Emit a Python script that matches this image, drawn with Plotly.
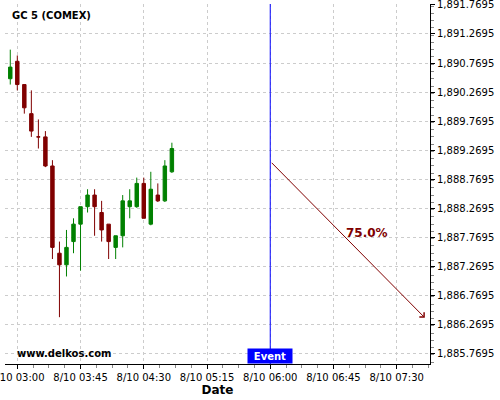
import plotly.graph_objects as go

times = [
    "2020-08-10 02:55", "2020-08-10 03:00", "2020-08-10 03:05", "2020-08-10 03:10",
    "2020-08-10 03:15", "2020-08-10 03:20", "2020-08-10 03:25", "2020-08-10 03:30",
    "2020-08-10 03:35", "2020-08-10 03:40", "2020-08-10 03:45", "2020-08-10 03:50",
    "2020-08-10 03:55", "2020-08-10 04:00", "2020-08-10 04:05", "2020-08-10 04:10",
    "2020-08-10 04:15", "2020-08-10 04:20", "2020-08-10 04:25", "2020-08-10 04:30",
    "2020-08-10 04:35", "2020-08-10 04:40", "2020-08-10 04:45", "2020-08-10 04:50",
]
opens = [1890.5, 1890.8, 1890.4, 1889.9, 1889.5, 1889.5, 1889.0, 1887.5,
         1887.3, 1887.7, 1888.0, 1888.3, 1888.5, 1888.2, 1888.0, 1887.6,
         1887.8, 1888.3, 1888.3, 1888.7, 1888.0, 1888.5, 1888.4, 1888.9]
highs = [1891.0, 1890.9, 1890.4, 1890.3, 1889.8, 1889.6, 1889.1, 1887.7,
         1887.9, 1888.1, 1888.3, 1888.6, 1888.6, 1888.4, 1888.0, 1887.8,
         1888.5, 1888.6, 1888.8, 1888.8, 1888.9, 1888.7, 1889.1, 1889.4]
lows = [1890.4, 1890.3, 1889.9, 1889.5, 1889.3, 1888.98, 1887.4, 1886.4,
        1887.1, 1887.5, 1887.2, 1888.2, 1887.8, 1887.7, 1887.4, 1887.4,
        1887.6, 1888.1, 1888.28, 1888.1, 1887.98, 1888.38, 1888.38, 1888.88]
closes = [1890.7, 1890.4, 1890.0, 1889.6, 1889.5, 1889.0, 1887.6, 1887.3,
          1887.6, 1888.0, 1888.3, 1888.5, 1888.3, 1887.9, 1887.7, 1887.8,
          1888.4, 1888.4, 1888.7, 1888.1, 1888.6, 1888.4, 1889.0, 1889.3]

title_text = "GC 5 (COMEX)"
event_time = "2020-08-10 06:00"
arrow_start = ("2020-08-10 06:00", 1889.08)
arrow_end = ("2020-08-10 07:50", 1886.39)
pct_label = "75.0%"
pct_pos = ("2020-08-10 07:08:48", 1887.84)
x_range = ["2020-08-10 02:51:15", "2020-08-10 07:53:41"]
y_range = [1885.595, 1891.785]

RED = "#800000"
GREEN = "#008000"
GRID = "#cccccc"

fig = go.Figure()
fig.add_trace(go.Candlestick(
    x=times, open=opens, high=highs, low=lows, close=closes,
    increasing=dict(line=dict(color=GREEN, width=1), fillcolor=GREEN),
    decreasing=dict(line=dict(color=RED, width=1), fillcolor=RED),
    whiskerwidth=0, hoverinfo="skip", showlegend=False,
))

fig.add_shape(type="line", x0=event_time, x1=event_time, xref="x",
              y0=0, y1=1, yref="paper", line=dict(color="#0000ff", width=1))

fig.add_annotation(x=arrow_end[0], y=arrow_end[1], ax=arrow_start[0], ay=arrow_start[1],
                   xref="x", yref="y", axref="x", ayref="y", text="",
                   showarrow=True, arrowhead=4, arrowsize=1.3, arrowwidth=1, arrowcolor=RED)
fig.add_annotation(x=pct_pos[0], y=pct_pos[1], xref="x", yref="y",
                   text="<b>" + pct_label + "</b>", showarrow=False,
                   font=dict(family="DejaVu Sans", size=12, color=RED))
fig.add_annotation(x=event_time, y=0, xref="x", yref="paper", yanchor="bottom",
                   text="<b>Event</b>", showarrow=False, bgcolor="#0000ff",
                   width=44, height=14, borderpad=0,
                   font=dict(family="DejaVu Sans", size=10, color="white"))
fig.add_annotation(x=0.0118, y=0.969, xref="paper", yref="paper", xanchor="left",
                   yanchor="middle", text="<b>" + title_text + "</b>", showarrow=False,
                   font=dict(family="DejaVu Sans", size=10, color="black"))
fig.add_annotation(x=0.0235, y=0.028, xref="paper", yref="paper", xanchor="left",
                   yanchor="middle", text="<b>www.delkos.com</b>", showarrow=False,
                   font=dict(family="DejaVu Sans", size=10, color="black"))

fig.update_layout(
    width=500, height=400,
    margin=dict(l=5, r=70, t=4, b=36),
    paper_bgcolor="white", plot_bgcolor="white",
    font=dict(family="DejaVu Sans", size=10, color="black"),
    xaxis=dict(
        type="date", range=x_range, rangeslider=dict(visible=False), automargin=False,
        tick0="2020-08-10 03:00", dtick=2700000, tickformat="%-m/%d %H:%M",
        showline=True, linecolor="black", linewidth=1, mirror=False,
        ticks="outside", ticklen=4, tickcolor="black",
        showgrid=True, gridcolor=GRID, griddash="3px,3px", gridwidth=1,
        zeroline=False, ticklabeloverflow="allow",
        minor=dict(dtick=675000, ticks="outside", ticklen=3, tickcolor="#888888", showgrid=False),
        title=dict(text="<b>Date</b>", font=dict(size=12), standoff=2),
        tickfont=dict(size=10),
    ),
    yaxis=dict(
        side="right", range=y_range, tick0=1885.7695, dtick=0.5, tickformat=",.4f",
        automargin=False, ticklabeloverflow="allow",
        showline=True, linecolor="black", linewidth=1,
        ticks="outside", ticklen=4, tickcolor="black",
        showgrid=True, gridcolor=GRID, griddash="3px,3px", gridwidth=1,
        zeroline=False,
        minor=dict(dtick=0.125, ticks="outside", ticklen=3, tickcolor="#888888", showgrid=False),
        tickfont=dict(size=10),
    ),
)

fig.write_html("out.html", config={"displayModeBar": False},
               post_script="document.body.style.margin='0';document.body.style.padding='0';")
